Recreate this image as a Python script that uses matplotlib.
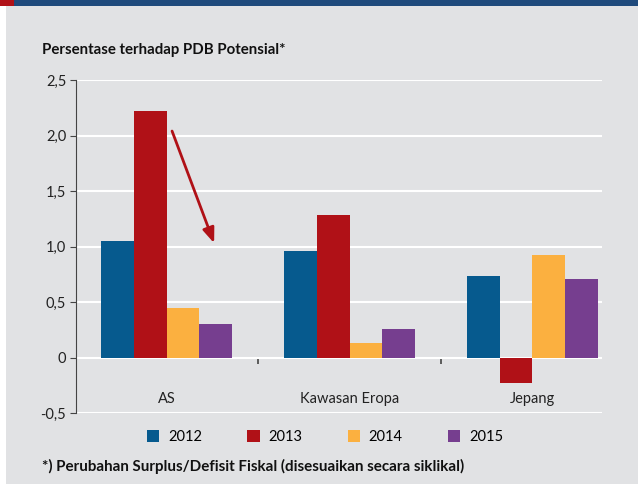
import matplotlib
matplotlib.use("Agg")
import matplotlib.pyplot as plt
from matplotlib.patches import Rectangle
import numpy as np

plt.rcParams['font.family'] = ['Lato', 'DejaVu Sans']

categories = ['AS', 'Kawasan Eropa', 'Jepang']
years = ['2012', '2013', '2014', '2015']
v2012 = [1.05, 0.96, 0.73]
v2013 = [2.22, 1.28, -0.23]
v2014 = [0.45, 0.13, 0.92]
v2015 = [0.30, 0.26, 0.71]
colors = ['#065A8E', '#B01117', '#FBB040', '#763E8F']

bg = '#E1E2E4'
fig = plt.figure(figsize=(6.38, 4.87), dpi=100)
fig.patch.set_facecolor('white')
# grey panel and top band
fig.patches.append(Rectangle((6/638, 3/487), 1, 1, transform=fig.transFigure,
                             facecolor=bg, edgecolor='none', zorder=-3))
fig.patches.append(Rectangle((0, 1 - 6/487), 1, 6/487, transform=fig.transFigure,
                             facecolor='#1F4A7C', edgecolor='none', zorder=-2))
fig.patches.append(Rectangle((0, 1 - 6/487), 14/638, 6/487, transform=fig.transFigure,
                             facecolor='#B01117', edgecolor='none', zorder=-1))

ax = fig.add_axes([76/638, 1 - 413/487, (602-76)/638, (413-80)/487])
ax.set_facecolor(bg)
ax.set_zorder(2)

x = np.arange(len(categories))
w = 0.179
series = [v2012, v2013, v2014, v2015]
for k, (vals, c, yr) in enumerate(zip(series, colors, years)):
    ax.bar(x + (k - 1.5) * w, vals, w, color=c, label=yr, zorder=3)

ax.set_ylim(-0.5, 2.5)
ax.set_xlim(-0.495, 2.38)
ax.set_yticks([-0.5, 0, 0.5, 1.0, 1.5, 2.0, 2.5])
ax.set_yticklabels(['-0,5', '0', '0,5', '1,0', '1,5', '2,0', '2,5'], fontsize=10.5, color='#222222')
ax.yaxis.grid(True, color='white', linewidth=1.5, zorder=0)
ax.set_axisbelow(True)
for s in ['top', 'right']:
    ax.spines[s].set_visible(False)
ax.spines['left'].set_color('#444444')
ax.spines['bottom'].set_position(('data', 0))
ax.spines['bottom'].set_visible(False)
ax.tick_params(axis='y', color='#444444', length=4, pad=3)
ax.set_xticks([0.5, 1.5])
ax.set_xticklabels(['', ''])
ax.tick_params(axis='x', color='#444444', length=4, width=1.2)
for i, cat in enumerate(categories):
    ax.text(i, -0.37, cat, ha='center', va='center', fontsize=10.5, color='#222222')

ax.annotate('', xy=(0.26, 1.03), xytext=(0.03, 2.04),
            arrowprops=dict(arrowstyle='-|>,head_length=0.9,head_width=0.35',
                            color='#B01117', lw=2, shrinkA=0, shrinkB=0), zorder=5)

fig.text(42/638, 1 - 50/487, 'Persentase terhadap PDB Potensial*', fontsize=10.8,
         fontweight='bold', va='center', color='#111111')

leg = fig.legend(loc='center', bbox_to_anchor=(325/638, 1 - 437/487), ncol=4,
                 frameon=False, fontsize=10.5, handlelength=0.85, handleheight=0.85,
                 columnspacing=3.1, handletextpad=0.6)

fig.text(42/638, 1 - 466/487, '*) Perubahan Surplus/Defisit Fiskal (disesuaikan secara siklikal)',
         fontsize=10.9, fontweight='bold', va='center', color='#111111')

fig.savefig('out.png', dpi=100, facecolor=fig.get_facecolor())
